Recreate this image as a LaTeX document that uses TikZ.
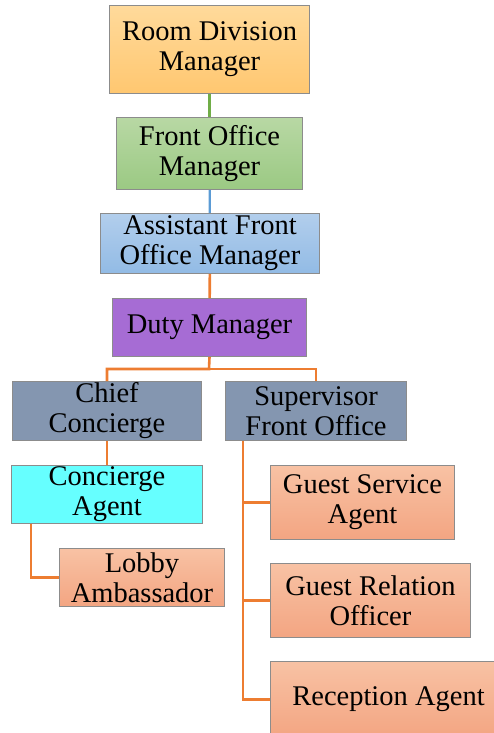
\documentclass[tikz,border=0pt]{standalone}
\usepackage{fontspec}
\setmainfont{Liberation Serif}

\definecolor{rdmtop}{RGB}{255,218,155}
\definecolor{rdmbot}{RGB}{255,199,112}
\definecolor{fomtop}{RGB}{184,216,164}
\definecolor{fombot}{RGB}{155,201,131}
\definecolor{afotop}{RGB}{178,206,236}
\definecolor{afobot}{RGB}{146,187,229}
\definecolor{dutyfill}{RGB}{166,108,212}
\definecolor{greyfill}{RGB}{132,150,176}
\definecolor{cyanfill}{RGB}{102,255,255}
\definecolor{salmtop}{RGB}{248,194,164}
\definecolor{salmbot}{RGB}{243,165,130}
\definecolor{linkorange}{RGB}{237,125,49}
\definecolor{linkgreen}{RGB}{112,173,71}
\definecolor{linkblue}{RGB}{91,155,213}

\begin{document}
\begin{tikzpicture}[x=1pt,y=-1pt,
    post/.style={draw=black!45,line width=1pt,anchor=north west,align=center,
      inner sep=0pt,font=\fontsize{28.5}{30}\selectfont},
    salmon/.style={post,top color=salmtop,bottom color=salmbot},
    link/.style={draw=linkorange,line width=2.6pt}]
    \useasboundingbox (0,0) rectangle (494,733);

    \node[post,top color=rdmtop,bottom color=rdmbot,minimum width=200pt,minimum height=88pt]
        (rdm) at (109,5) {Room Division\\Manager};
    \node[post,top color=fomtop,bottom color=fombot,minimum width=186pt,minimum height=72pt]
        (fom) at (116,117) {Front Office\\Manager};
    \node[post,top color=afotop,bottom color=afobot,minimum width=219pt,minimum height=60pt]
        (afom) at (100,213) {Assistant Front\\Office Manager};
    \node[post,fill=dutyfill,minimum width=194pt,minimum height=58pt]
        (duty) at (112,298) {Duty Manager};

    \node[post,fill=greyfill,minimum width=189pt,minimum height=59pt]
        (chief) at (12,381) {Chief\\Concierge};
    \node[post,fill=greyfill,minimum width=181pt,minimum height=59pt]
        (sup) at (225,381) {Supervisor\\Front Office};
    \node[post,fill=cyanfill,minimum width=191pt,minimum height=58pt]
        (agent) at (11,465) {Concierge\\Agent};
    \node[salmon,minimum width=165pt,minimum height=58pt]
        (lobby) at (59,548) {Lobby\\Ambassador};

    \node[salmon,minimum width=184pt,minimum height=74pt]
        (gsa) at (270,465) {Guest Service\\Agent};
    \node[salmon,minimum width=200pt,minimum height=74pt]
        (gro) at (270,563) {Guest Relation\\Officer};
    \node[salmon,minimum width=236pt,minimum height=76pt]
        (rec) at (270,661) {Reception Agent};

    \coordinate (split) at (209,369);

    % top chain
    \draw[draw=linkgreen,line width=2.2pt] (rdm) -- (fom);
    \draw[draw=linkblue,line width=2.2pt] (fom) -- (afom);
    \draw[link] (afom) -- (duty);

    % duty manager branches
    \draw[link] (duty.south) -- (split) -| (chief.north);
    \draw[link] (split) -| (sup.north);

    % concierge side
    \draw[link] (chief) -- (agent);
    \draw[link] ([xshift=20pt]agent.south west) |- (lobby.west);

    % front office side
    \draw[link] ([xshift=18pt]sup.south west) |- (gsa.west);
    \draw[link] ([xshift=18pt]sup.south west) |- (gro.west);
    \draw[link] ([xshift=18pt]sup.south west) |- (rec.west);
\end{tikzpicture}
\end{document}
